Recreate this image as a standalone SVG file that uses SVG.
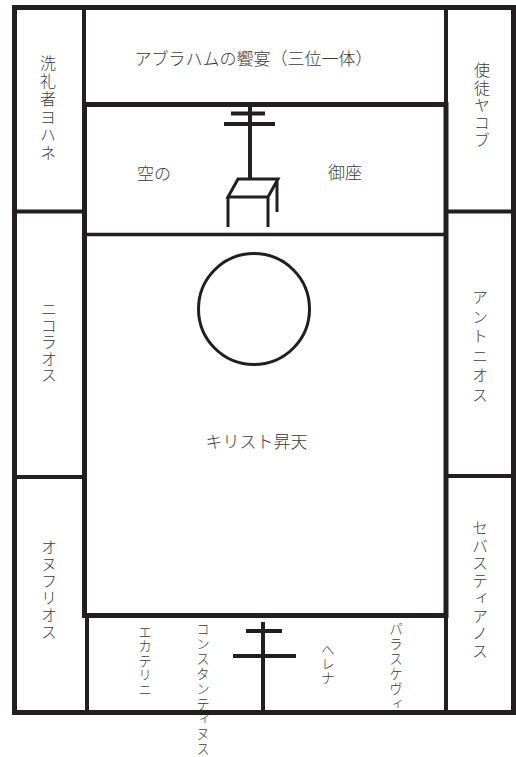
<svg xmlns="http://www.w3.org/2000/svg" width="516" height="757" viewBox="0 0 516 757">
<style>
.ln{stroke:#231f20;fill:none;stroke-linecap:butt}
.t{font-family:"Noto Sans CJK JP","Noto Sans CJK SC",sans-serif;font-weight:300;fill:#3c3c3c}
.h{font-size:17px;dominant-baseline:central}
.v{font-size:16px;writing-mode:vertical-rl;text-anchor:start}
.s{font-size:13.5px;writing-mode:vertical-rl;text-anchor:start}
</style>
<rect width="516" height="757" fill="#ffffff"/>

<g id="title">
<text class="t h" x="253.5" y="57" text-anchor="middle">アブラハムの饗宴（三位一体）</text>
</g>
<g id="john">
<text class="t v" x="48" y="55" letter-spacing="2">洗礼者ヨハネ</text>
</g>
<g id="james">
<text class="t v" x="482" y="62" letter-spacing="1.5">使徒ヤコブ</text>
</g>
<g id="nicholas">
<text class="t v" x="49" y="301" letter-spacing="0.5">ニコラオス</text>
</g>
<g id="onuphrius">
<text class="t v" x="49" y="539" letter-spacing="1">オヌフリオス</text>
</g>
<g id="anthony">
<text class="t v" x="480" y="289" letter-spacing="3.6">アントニオス</text>
</g>
<g id="sebastian">
<text class="t v" x="480" y="520" letter-spacing="1.5">セバスティアノス</text>
</g>
<g id="throne">
<text class="t h" x="137" y="172">空の</text>
<text class="t h" x="328" y="171">御座</text>
<path class="ln" stroke-width="4" d="M250 106V179M231 113.5H265M224 124H275"/>
<path class="ln" stroke-width="3" d="M238 179H278L268 197H228ZM228 197V227M268 197V227M277 179V212"/>
</g>
<g id="ascension">
<circle class="ln" cx="254" cy="309" r="55.5" stroke-width="3"/>
<text class="t h" x="256.5" y="440" text-anchor="middle" font-size="18">キリスト昇天</text>
</g>
<g id="catherine">
<text class="t s" x="145" y="625" letter-spacing="1">エカテリニ</text>
</g>
<g id="constantine">
<text class="t s" x="203" y="622" letter-spacing="1.5">コンスタンティヌス</text>
</g>
<g id="helena">
<text class="t s" x="328" y="643" letter-spacing="0.5">ヘレナ</text>
</g>
<g id="paraskevi">
<text class="t s" x="396" y="622" letter-spacing="1.5">パラスケヴィ</text>
<path class="ln" stroke-width="4" d="M263 622V710M246 631H282M233 656H296"/>
</g>

<g id="frame">
<rect class="ln" x="14.5" y="7.5" width="499" height="705" stroke-width="5"/>
<path class="ln" stroke-width="4" d="M84 7V104M446 7V712M87 615V712M14 211.5H84M446 211.5H514M14 477H84M446 476H514"/>
<path class="ln" stroke-width="3.5" d="M84 234.5H446"/>
<rect class="ln" x="84.5" y="104.5" width="361.5" height="511" stroke-width="5"/>
</g>
</svg>
